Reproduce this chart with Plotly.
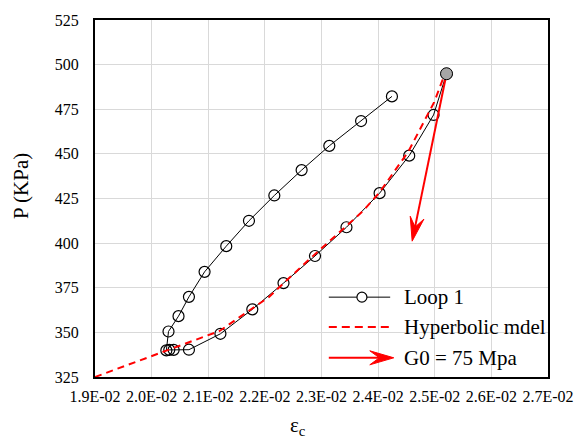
import math
import plotly.graph_objects as go

# ---------------- data ----------------
loop_x = [0.024244, 0.023699, 0.023138, 0.022649, 0.022167, 0.021719, 0.021318,
          0.020935, 0.020659, 0.020475, 0.020298, 0.020260, 0.020312, 0.020389,
          0.020659, 0.021215, 0.021778, 0.022329, 0.022885, 0.023441, 0.024026,
          0.024549, 0.024979, 0.025208]
loop_p = [482.2, 468.4, 454.5, 440.9, 426.7, 412.5, 398.3,
          383.9, 369.9, 359.1, 350.5, 339.9, 340.2, 340.2,
          340.3, 349.2, 362.9, 377.6, 392.8, 408.9, 428.0,
          449.0, 471.8, 494.9]

hyp_x = [0.019000, 0.019640, 0.020286, 0.021201, 0.021547, 0.022064, 0.022752,
         0.023212, 0.023728, 0.024015, 0.024532, 0.024990, 0.025134, 0.025208]
hyp_p = [325.0, 332.4, 339.9, 350.8, 358.4, 369.6, 390.0,
         403.0, 417.8, 428.0, 451.2, 479.0, 491.1, 494.9]

g0_x = [0.025208, 0.024601]   # arrow start, arrow tip
g0_p = [494.9, 401.1]

xtick_vals = [0.019, 0.020, 0.021, 0.022, 0.023, 0.024, 0.025, 0.026, 0.027]
xtick_text = ["1.9E-02", "2.0E-02", "2.1E-02", "2.2E-02", "2.3E-02",
              "2.4E-02", "2.5E-02", "2.6E-02", "2.7E-02"]
ytick_vals = [325, 350, 375, 400, 425, 450, 475, 500, 525]

legend_names = ["Loop 1", "Hyperbolic mdel", "G0 = 75 Mpa"]

# ---------------- layout geometry ----------------
W, H = 586, 439
ML, MR, MT, MB = 95, 26, 18, 62
X_RANGE = [0.019, 0.027]
Y_RANGE = [325, 525]
pw = W - ML - MR
ph = H - MT - MB
sx = pw / (X_RANGE[1] - X_RANGE[0])
sy = ph / (Y_RANGE[1] - Y_RANGE[0])
FONT = "Times New Roman, Liberation Serif, DejaVu Serif, serif"

def px2paper_x(px):
    return (px - ML) / pw

def py2paper_y(py):
    return (H - MB - py) / ph

HEAD_L, HEAD_W = 24, 14

def head_path(ux, uy):
    nx, ny = -uy, ux
    bl = (-HEAD_L * ux + HEAD_W / 2 * nx, -HEAD_L * uy + HEAD_W / 2 * ny)
    br = (-HEAD_L * ux - HEAD_W / 2 * nx, -HEAD_L * uy - HEAD_W / 2 * ny)
    nt = (-0.6 * HEAD_L * ux, -0.6 * HEAD_L * uy)
    return (f"M0,0 L{bl[0]:.2f},{bl[1]:.2f} L{nt[0]:.2f},{nt[1]:.2f} "
            f"L{br[0]:.2f},{br[1]:.2f} Z")

fig = go.Figure()

fig.add_trace(go.Scatter(
    x=loop_x, y=loop_p, mode="lines+markers", name=legend_names[0],
    line=dict(color="black", width=1),
    marker=dict(symbol="circle-open", size=11, color="black", line=dict(width=1.2)),
    showlegend=False))

fig.add_trace(go.Scatter(
    x=hyp_x, y=hyp_p, mode="lines", name=legend_names[1],
    line=dict(color="red", width=2, dash="7px,5px"), showlegend=False))

dxp = (g0_x[1] - g0_x[0]) * sx
dyp = (g0_p[1] - g0_p[0]) * sy
n = math.hypot(dxp, dyp)
ux, uy = dxp / n, dyp / n
notch_x = g0_x[1] - 0.6 * HEAD_L * ux / sx
notch_p = g0_p[1] - 0.6 * HEAD_L * uy / sy
fig.add_trace(go.Scatter(
    x=[g0_x[0], notch_x], y=[g0_p[0], notch_p], mode="lines",
    line=dict(color="red", width=2), showlegend=False, name=legend_names[2]))

shapes = []
shapes.append(dict(type="path", xref="x", yref="y", xsizemode="pixel", ysizemode="pixel",
                   xanchor=g0_x[1], yanchor=g0_p[1], path=head_path(ux, uy),
                   fillcolor="red", line=dict(color="red", width=1), layer="above"))

fig.add_trace(go.Scatter(
    x=[loop_x[-1]], y=[loop_p[-1]], mode="markers",
    marker=dict(symbol="circle", size=12, color="#a6a6a6", line=dict(color="black", width=1)),
    showlegend=False))

# ---------------- manual legend ----------------
rows_py = [296.7, 326.7, 357.7]
lx0, lx1, lxc, ltext = 335, 398, 369, 410
shapes.append(dict(type="line", xref="paper", yref="paper",
                   x0=px2paper_x(lx0), x1=px2paper_x(lx1),
                   y0=py2paper_y(rows_py[0]), y1=py2paper_y(rows_py[0]),
                   line=dict(color="black", width=1)))
shapes.append(dict(type="circle", xref="paper", yref="paper",
                   xsizemode="pixel", ysizemode="pixel",
                   xanchor=px2paper_x(lxc), yanchor=py2paper_y(rows_py[0]),
                   x0=-5, x1=5, y0=-5, y1=5, fillcolor="white",
                   line=dict(color="black", width=1.2)))
shapes.append(dict(type="line", xref="paper", yref="paper",
                   x0=px2paper_x(lx0), x1=px2paper_x(lx1),
                   y0=py2paper_y(rows_py[1]), y1=py2paper_y(rows_py[1]),
                   line=dict(color="red", width=2, dash="8px,5px")))
shapes.append(dict(type="line", xref="paper", yref="paper",
                   x0=px2paper_x(lx0), x1=px2paper_x(401.7 - 0.6 * HEAD_L),
                   y0=py2paper_y(rows_py[2]), y1=py2paper_y(rows_py[2]),
                   line=dict(color="red", width=2)))
shapes.append(dict(type="path", xref="paper", yref="paper",
                   xsizemode="pixel", ysizemode="pixel",
                   xanchor=px2paper_x(401.7), yanchor=py2paper_y(rows_py[2]),
                   path=head_path(1.0, 0.0), fillcolor="red",
                   line=dict(color="red", width=1)))

annotations = []
for name, py in zip(legend_names, rows_py):
    annotations.append(dict(xref="paper", yref="paper", x=px2paper_x(ltext),
                            y=py2paper_y(py), text=name, showarrow=False,
                            xanchor="left", yanchor="middle",
                            font=dict(family=FONT, size=21, color="black")))

annotations.append(dict(xref="paper", yref="paper", x=px2paper_x(19), y=py2paper_y(185),
                        text="P (KPa)", textangle=-90, showarrow=False,
                        xanchor="center", yanchor="middle",
                        font=dict(family=FONT, size=21, color="black")))
annotations.append(dict(xref="paper", yref="paper", x=px2paper_x(303), y=py2paper_y(426),
                        text="ε<sub>c</sub>", showarrow=False,
                        xanchor="center", yanchor="middle",
                        font=dict(family=FONT, size=21, color="black")))

fig.update_layout(
    width=W, height=H,
    margin=dict(l=ML, r=MR, t=MT, b=MB, pad=0),
    paper_bgcolor="white", plot_bgcolor="white",
    font=dict(family=FONT, size=16, color="black"),
    showlegend=False,
    shapes=shapes, annotations=annotations,
    xaxis=dict(range=X_RANGE, tickvals=xtick_vals, ticktext=xtick_text,
               showgrid=True, gridcolor="#d9d9d9", gridwidth=1,
               showline=True, linecolor="black", linewidth=2, mirror=True,
               zeroline=False, ticks="", ticklabelstandoff=4,
               tickfont=dict(family=FONT, size=16, color="black")),
    yaxis=dict(range=Y_RANGE, tickvals=ytick_vals,
               showgrid=True, gridcolor="#d9d9d9", gridwidth=1,
               showline=True, linecolor="black", linewidth=2, mirror=True,
               zeroline=False, ticks="", ticklabelstandoff=11,
               tickfont=dict(family=FONT, size=16, color="black")),
)

fig.write_html("out.html")
